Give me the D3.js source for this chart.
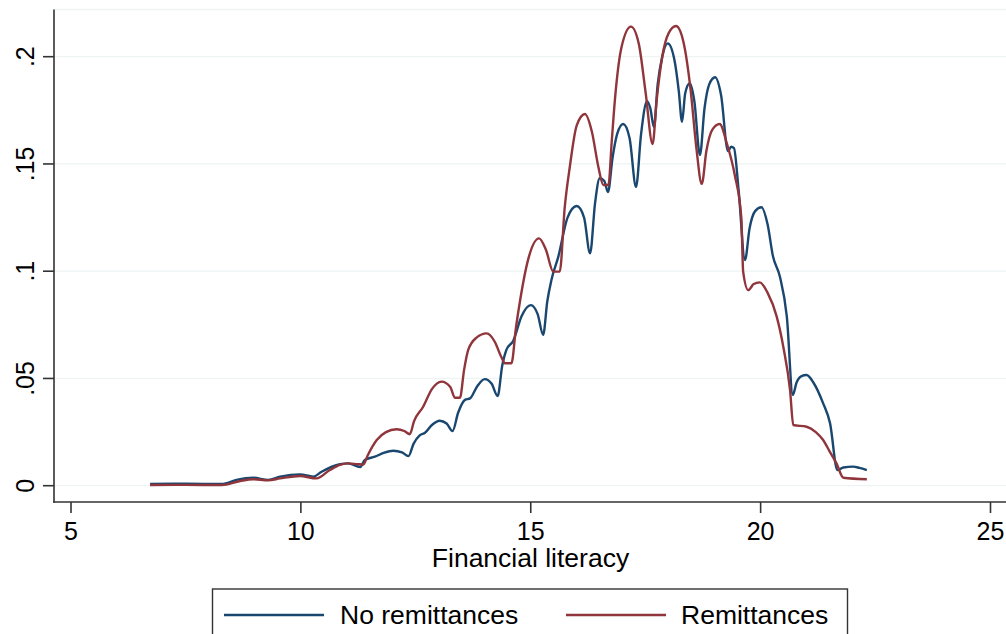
<!DOCTYPE html>
<html>
<head>
<meta charset="utf-8">
<script src="https://cdn.jsdelivr.net/npm/d3@7"></script>
<style>
  html, body { margin: 0; padding: 0; background: #fff; }
  svg text { font-family: "Liberation Sans", Arial, Helvetica, sans-serif; fill: #000; }
</style>
</head>
<body>
<svg id="chart" width="1006" height="634"></svg>
<script>
// Kernel density of financial literacy score, by remittance status
const noRemitX = [6.72, 7.5, 8.28, 8.6, 8.96, 9.29, 9.55, 9.98, 10.27, 10.45, 10.85, 11.03, 11.29, 11.39, 11.61, 11.8, 12.01, 12.2, 12.34,
  12.45, 12.59, 12.70, 12.85, 13.02, 13.17, 13.30,
  13.42, 13.57, 13.68, 13.84, 14.00, 14.15, 14.28,
  14.38, 14.47, 14.62, 14.8, 15.00, 15.15, 15.27,
  15.36, 15.45, 15.60, 15.8, 16.00, 16.16, 16.29,
  16.40, 16.50, 16.60, 16.68, 16.78, 16.88, 17.01, 17.15, 17.29,
  17.40, 17.53, 17.60, 17.68,
  17.76, 17.86, 17.98, 18.12, 18.22, 18.29,
  18.36, 18.46, 18.56, 18.68,
  18.78, 18.88, 19.01, 19.14, 19.29,
  19.36, 19.42, 19.52, 19.66,
  19.76, 19.88, 20.02, 20.15, 20.27, 20.42, 20.57, 20.70,
  20.78, 20.88, 21.00, 21.15, 21.36, 21.51, 21.67,
  21.80, 22.01, 22.15, 22.31];
const noRemitY = [0.0008, 0.0009, 0.0008, 0.0027, 0.0037, 0.0027, 0.0042, 0.0053, 0.0042, 0.0065, 0.0100, 0.0104, 0.0087, 0.0120, 0.0135, 0.0153, 0.0163, 0.0155, 0.0138,
  0.0195, 0.0236, 0.0247, 0.0283, 0.0303, 0.0290, 0.0255,
  0.0340, 0.0400, 0.0407, 0.0465, 0.0497, 0.0475, 0.0418,
  0.0560, 0.0633, 0.0676, 0.0790, 0.0842, 0.0800, 0.0703,
  0.0860, 0.0959, 0.1068, 0.1250, 0.1304, 0.1250, 0.1083,
  0.1320, 0.1433, 0.1420, 0.1369, 0.1530, 0.1640, 0.1686, 0.1620, 0.1393,
  0.1640, 0.1793, 0.1760, 0.1672,
  0.1870, 0.2000, 0.2062, 0.1990, 0.1840, 0.1697,
  0.1830, 0.1876, 0.1790, 0.1542,
  0.1760, 0.1870, 0.1904, 0.1820, 0.1560,
  0.1580, 0.1574, 0.1380, 0.1052,
  0.1200, 0.1280, 0.1298, 0.1220, 0.1068, 0.0974, 0.0788, 0.0423,
  0.0480, 0.0510, 0.0516, 0.0480, 0.0384, 0.0291, 0.0073,
  0.0085, 0.0089, 0.0083, 0.0073];

const remitX = [6.72, 7.5, 8.28, 8.68, 8.96, 9.29, 9.55, 9.98, 10.34, 10.63, 10.85, 11.03, 11.25, 11.36,
  11.45, 11.65, 11.85, 12.08, 12.25, 12.37,
  12.46, 12.66, 12.85, 13.06, 13.25, 13.35, 13.46,
  13.55, 13.64, 13.82, 14.04, 14.22, 14.36, 14.44, 14.58,
  14.68, 14.77, 14.95, 15.18, 15.33, 15.49, 15.63,
  15.74, 15.85, 16.00, 16.18, 16.33, 16.47, 16.58, 16.69,
  16.76, 16.83, 16.98, 17.18, 17.35, 17.50, 17.65,
  17.74, 17.86, 18.00, 18.16, 18.32, 18.48, 18.60, 18.72,
  18.82, 18.95, 19.11, 19.26, 19.44, 19.58, 19.62, 19.73,
  19.85, 19.98, 20.15, 20.35, 20.50, 20.64, 20.71, 21.00, 21.20, 21.36, 21.50, 21.65, 21.80, 22.31];
const remitY = [0.0003, 0.0004, 0.0003, 0.0022, 0.0030, 0.0025, 0.0034, 0.0045, 0.0034, 0.0073, 0.0097, 0.0104, 0.0100, 0.0099,
  0.0140, 0.0213, 0.0250, 0.0263, 0.0255, 0.0240,
  0.0300, 0.0368, 0.0450, 0.0485, 0.0460, 0.0410, 0.0410,
  0.0540, 0.0633, 0.0690, 0.0710, 0.0670, 0.0600, 0.0571, 0.0571,
  0.0740, 0.0866, 0.1060, 0.1153, 0.1100, 0.0998, 0.0998,
  0.1300, 0.1487, 0.1680, 0.1733, 0.1650, 0.1487, 0.1402, 0.1402,
  0.1600, 0.1798, 0.2050, 0.2140, 0.2060, 0.1830, 0.1593,
  0.1800, 0.2000, 0.2110, 0.2143, 0.2070, 0.1840, 0.1580, 0.1407,
  0.1560, 0.1660, 0.1686, 0.1600, 0.1446, 0.1250, 0.0998, 0.0912,
  0.0940, 0.0948, 0.0900, 0.0788, 0.0640, 0.0446, 0.0283, 0.0275, 0.0250, 0.0213, 0.0160, 0.0104, 0.0037, 0.0030];

const xTicks = [5, 10, 15, 20, 25];
const yTicks = [0, 0.05, 0.1, 0.15, 0.2];
const yTickLabels = ["0", ".05", ".1", ".15", ".2"];
const seriesNames = ["No remittances", "Remittances"];
const seriesColors = ["#1a476f", "#90353b"];
const xTitle = "Financial literacy";

const svg = d3.select("#chart");
const plotLeft = 54, plotRight = 1006, plotTop = 9.5, axisY = 502;

const x = d3.scaleLinear().domain([5, 25]).range([71, 990.5]);
const y = d3.scaleLinear().domain([0, 0.2]).range([485.7, 56.7]);

// gridlines
const grid = svg.append("g");
grid.selectAll("line.g").data(yTicks).join("line")
  .attr("x1", plotLeft).attr("x2", plotRight)
  .attr("y1", d => y(d)).attr("y2", d => y(d))
  .attr("stroke", "#eef3f3").attr("stroke-width", 1.3);
grid.append("line")
  .attr("x1", plotLeft).attr("x2", plotRight)
  .attr("y1", plotTop).attr("y2", plotTop)
  .attr("stroke", "#eef3f3").attr("stroke-width", 1.3);

// density curves
const series = [d3.zip(noRemitX, noRemitY), d3.zip(remitX, remitY)];
const line = d3.line()
  .x(d => x(d[0])).y(d => y(d[1]))
  .curve(d3.curveMonotoneX);
svg.append("g").selectAll("path").data(series).join("path")
  .attr("d", line)
  .attr("fill", "none")
  .attr("stroke", (d, i) => seriesColors[i])
  .attr("stroke-width", 2.4)
  .attr("stroke-linejoin", "round");

// y axis
const yAxis = svg.append("g");
yAxis.append("line")
  .attr("x1", plotLeft).attr("x2", plotLeft)
  .attr("y1", plotTop).attr("y2", axisY + 0.75)
  .attr("stroke", "#333").attr("stroke-width", 1.6);
yAxis.selectAll("line.t").data(yTicks).join("line").attr("class", "t")
  .attr("x1", plotLeft - 11).attr("x2", plotLeft)
  .attr("y1", d => y(d)).attr("y2", d => y(d))
  .attr("stroke", "#333").attr("stroke-width", 1.6);
yAxis.selectAll("text").data(yTicks).join("text")
  .attr("transform", d => `translate(34,${y(d)}) rotate(-90)`)
  .attr("text-anchor", "middle")
  .attr("font-size", 25)
  .text((d, i) => yTickLabels[i]);

// x axis
const xAxis = svg.append("g");
xAxis.append("line")
  .attr("x1", plotLeft - 0.75).attr("x2", plotRight)
  .attr("y1", axisY).attr("y2", axisY)
  .attr("stroke", "#333").attr("stroke-width", 1.6);
xAxis.selectAll("line.t").data(xTicks).join("line").attr("class", "t")
  .attr("x1", d => x(d)).attr("x2", d => x(d))
  .attr("y1", axisY).attr("y2", axisY + 11)
  .attr("stroke", "#333").attr("stroke-width", 1.6);
xAxis.selectAll("text").data(xTicks).join("text")
  .attr("x", d => x(d)).attr("y", 539.5)
  .attr("text-anchor", "middle")
  .attr("font-size", 25)
  .text(d => d);

svg.append("text")
  .attr("x", 530.5).attr("y", 567)
  .attr("text-anchor", "middle")
  .attr("font-size", 26.5)
  .text(xTitle);

// legend
const legend = svg.append("g");
legend.append("rect")
  .attr("x", 212.5).attr("y", 589).attr("width", 635).attr("height", 60)
  .attr("fill", "#fff").attr("stroke", "#333").attr("stroke-width", 1.4);
const legendItems = [
  { x1: 224, x2: 324, tx: 340 },
  { x1: 566, x2: 666, tx: 681 }
];
legendItems.forEach((it, i) => {
  legend.append("line")
    .attr("x1", it.x1).attr("x2", it.x2)
    .attr("y1", 615).attr("y2", 615)
    .attr("stroke", seriesColors[i]).attr("stroke-width", 2.4);
  legend.append("text")
    .attr("x", it.tx).attr("y", 624)
    .attr("font-size", 26.5)
    .text(seriesNames[i]);
});
</script>
</body>
</html>
